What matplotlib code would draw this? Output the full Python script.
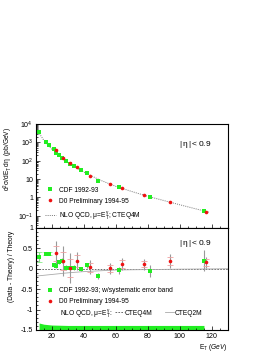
import numpy as np
import matplotlib
matplotlib.use('Agg')
import matplotlib.pyplot as plt
from matplotlib.lines import Line2D
from matplotlib.ticker import FixedLocator, FixedFormatter, MultipleLocator

plt.rcParams['font.family'] = ['Liberation Sans', 'DejaVu Sans']
plt.rcParams['mathtext.fontset'] = 'custom'
plt.rcParams['mathtext.rm'] = 'Liberation Sans'
plt.rcParams['mathtext.it'] = 'Liberation Sans:italic'
plt.rcParams['mathtext.default'] = 'regular'

# theory curve (NLO QCD, CTEQ4M)
theory_et = [10, 12, 15, 20, 25, 30, 35, 40, 50, 60, 70, 80, 90, 100, 110, 118]
theory_xs = [7900, 3200, 1260, 420, 166, 79, 42, 24, 8.9, 4.0, 2.1, 1.15, 0.68, 0.40, 0.24, 0.16]

# CDF 1992-93
cdf_et = [12, 16.5, 18.5, 21, 22.5, 24.5, 26.5, 29, 31.5, 33.5, 38, 42, 48.5, 62, 81, 115]
cdf_xs = [3700, 1100, 690, 420, 275, 210, 132, 93, 69, 54, 32, 21, 7.9, 3.5, 1.05, 0.195]
cdf_ratio = [0.28, 0.37, 0.37, 0.09, 0.07, 0.16, 0.20, 0.03, 0.02, 0.03, -0.01, 0.09, -0.17, -0.04, -0.05, 0.20]
cdf_err = [0.12, 0.03, 0.03, 0.04, 0.04, 0.05, 0.06, 0.05, 0.05, 0.05, 0.05, 0.06, 0.07, 0.08, 0.15, 0.25]

# D0 preliminary 1994-95
d0_et = [22.5, 27, 31, 35.5, 44, 56, 64, 77.5, 94, 116]
d0_xs = [370, 148, 72, 48, 14.8, 5.5, 3.3, 1.38, 0.60, 0.17]
d0_ratio = [0.38, 0.19, 0.01, 0.19, 0.04, 0.01, 0.12, 0.11, 0.19, 0.16]
d0_err = [0.30, 0.36, 0.37, 0.23, 0.18, 0.13, 0.15, 0.13, 0.16, 0.14]

# CTEQ2M relative to CTEQ4M
cteq2m_et = [10, 20, 30, 40, 50, 60, 80, 100, 130]
cteq2m_ratio = [-0.18, -0.14, -0.10, -0.07, -0.05, -0.03, -0.02, -0.01, 0.0]

# CDF systematic error band (drawn at bottom)
band_et = [12, 15, 20, 30, 40, 60, 80, 100, 115]
band_top = [-1.33, -1.36, -1.38, -1.39, -1.39, -1.39, -1.39, -1.39, -1.39]

green = '#22ee22'
red = '#ee1111'
grey = '#999999'
fs = 4.8
ms = 2.6

fig = plt.figure(figsize=(2.74, 3.54), dpi=100)
ax1 = fig.add_axes([0.131, 0.356, 0.701, 0.294])
ax2 = fig.add_axes([0.131, 0.068, 0.701, 0.288])

# ---- top panel
ax1.set_yscale('log')
ax1.plot(theory_et, theory_xs, ls=(0, (1, 1.2)), color='#777777', lw=0.7)
ax1.plot(cdf_et, cdf_xs, 's', color=green, ms=ms, mew=0)
ax1.plot(d0_et, d0_xs, 'o', color=red, ms=ms, mew=0)
ax1.set_xlim(10, 130)
ax1.set_ylim(0.022, 1e4)
ax1.yaxis.set_major_locator(FixedLocator([0.1, 1, 10, 100, 1000, 10000]))
ax1.yaxis.set_major_formatter(FixedFormatter(['$10^{-1}$', '1', '10', '$10^2$', '$10^3$', '$10^4$']))
ax1.xaxis.set_major_locator(MultipleLocator(20))
ax1.xaxis.set_minor_locator(MultipleLocator(5))
ax1.set_xticklabels([])
ax1.tick_params(which='both', direction='in', labelsize=fs + 0.3, length=3, width=0.5, pad=2)
ax1.tick_params(which='minor', length=1.5)
ax1.set_ylabel(r'$d^2\sigma/dE_T\,d\eta$  (pb/GeV)', fontsize=fs, labelpad=2)
ax1.yaxis.set_label_coords(-0.11, 0.66)
ax1.text(0.745, 0.79, r'$|\,\eta\,| < 0.9$', transform=ax1.transAxes, fontsize=6)
h1 = [Line2D([], [], marker='s', ls='', color=green, ms=ms, mew=0),
      Line2D([], [], marker='o', ls='', color=red, ms=ms, mew=0),
      Line2D([], [], ls=(0, (1, 1.2)), color='#777777', lw=0.7)]
ax1.legend(h1, ['CDF 1992-93', 'D0 Preliminary 1994-95', r'NLO QCD, $\mu$=E$_T^{\gamma}$; CTEQ4M'],
           loc='lower left', bbox_to_anchor=(0.03, 0.03), frameon=False, fontsize=fs,
           handlelength=1.6, handletextpad=0.5, labelspacing=0.6, borderpad=0)

# ---- bottom panel
ax2.fill_between(band_et, -1.5, band_top, color=green, lw=0)
ax2.axhline(0, ls=(0, (2, 1.5)), color='#555555', lw=0.6)
ax2.plot(cteq2m_et, cteq2m_ratio, '-', color='#aaaaaa', lw=0.6)
ax2.errorbar(cdf_et, cdf_ratio, yerr=cdf_err, fmt='s', color=green, ms=ms, mew=0,
             ecolor=grey, elinewidth=0.8, capsize=0)
ax2.errorbar(cdf_et[:3], cdf_ratio[:3], yerr=cdf_err[:3], fmt='none', ecolor='#88ee88',
             elinewidth=0.6, capsize=2.2, capthick=0.6)
ax2.errorbar(d0_et, d0_ratio, yerr=d0_err, fmt='o', color=red, ms=ms, mew=0,
             ecolor=grey, elinewidth=0.8, capsize=2.5, capthick=0.6)
ax2.errorbar(d0_et, d0_ratio, yerr=[e * 0.6 for e in d0_err], fmt='none', ecolor='#f0a0a0',
             elinewidth=0, capsize=2.5, capthick=0.6)
ax2.set_xlim(10, 130)
ax2.set_ylim(-1.5, 1)
ax2.xaxis.set_major_locator(MultipleLocator(20))
ax2.xaxis.set_minor_locator(MultipleLocator(5))
ax2.yaxis.set_minor_locator(MultipleLocator(0.1))
ax2.set_yticks([-1.5, -1, -0.5, 0, 0.5, 1])
ax2.set_yticklabels(['-1.5', '-1', '-0.5', '0', '0.5', '1'])
ax2.tick_params(which='both', direction='in', labelsize=fs + 0.3, length=3, width=0.5, pad=2)
ax2.tick_params(which='minor', length=1.5)
ax2.set_ylabel('(Data - Theory) / Theory', fontsize=fs, labelpad=2)
ax2.yaxis.set_label_coords(-0.11, 0.62)
ax2.set_xlabel(r'$E_T$ $\it{(GeV)}$', fontsize=fs, loc='right', labelpad=2)
ax2.text(0.745, 0.83, r'$|\,\eta\,| < 0.9$', transform=ax2.transAxes, fontsize=6)
ax2.text(0.125, 0.165, r'NLO QCD, $\mu$=E$_T^{\gamma}$:', transform=ax2.transAxes,
         fontsize=fs, va='center')
h3 = [Line2D([], [], ls=(0, (2, 1.5)), color='#555555', lw=0.6),
      Line2D([], [], ls='-', color='#aaaaaa', lw=0.6)]
leg3 = ax2.legend(h3, ['CTEQ4M', 'CTEQ2M'], loc='center left', bbox_to_anchor=(0.395, 0.165),
                  frameon=False, fontsize=fs, ncol=2, handlelength=1.3, handletextpad=0.2,
                  columnspacing=1.8, borderpad=0)
ax2.add_artist(leg3)
h2 = [Line2D([], [], marker='s', ls='', color=green, ms=ms, mew=0),
      Line2D([], [], marker='o', ls='', color=red, ms=ms, mew=0)]
ax2.legend(h2, ['CDF 1992-93; w/systematic error band', 'D0 Preliminary 1994-95'],
           loc='lower left', bbox_to_anchor=(0.03, 0.21), frameon=False, fontsize=fs,
           handlelength=1.6, handletextpad=0.5, labelspacing=0.6, borderpad=0)

for ax in (ax1, ax2):
    for s in ax.spines.values():
        s.set_linewidth(0.8)

fig.savefig('out.png', dpi=100)
